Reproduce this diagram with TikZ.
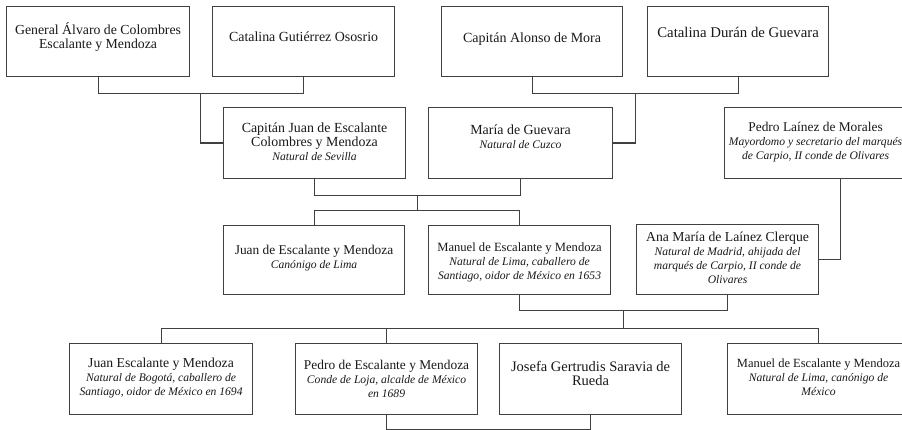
\documentclass[tikz,border=0pt]{standalone}
\usepackage{fontspec}
\setmainfont{Liberation Serif}
\usetikzlibrary{calc}
\tikzset{
  box/.style={draw=black!75, line width=1.1pt, inner sep=0pt, fill=white},
  txt/.style={inner sep=0pt, align=center, text=black!90},
  conn/.style={draw=black!75, line width=1.1pt},
}
\newcommand\sub[1]{{\fontsize{11.6}{14}\selectfont\itshape #1}}
\newcommand\fambox[8]{%
  \node[box, minimum width=#4pt, minimum height=#5pt, anchor=north west] (#1) at (#2,-#3) {};
  \node[txt, font=\fontsize{#7}{14}\selectfont, anchor=north] (#1t) at ([yshift=-#6pt]#1.north) {\rule{0pt}{13pt}#8};}
\begin{document}
\begin{tikzpicture}[x=1pt,y=1pt]
\useasboundingbox (0,0) rectangle (902,-430);
\clip (0,0) rectangle (902,-430);
% row 1
\fambox{A}{6}{6}{183}{70}{15}{13.8}{General Álvaro de Colombres\\Escalante y Mendoza}
\fambox{B}{212}{6}{182}{70}{22}{13.9}{Catalina Gutiérrez Ososrio}
\fambox{C}{441}{6}{181}{70}{23}{14}{Capitán Alonso de Mora}
\fambox{D}{647}{6}{181}{70}{18}{14.8}{Catalina Durán de Guevara}
% row 2
\fambox{E}{223}{107}{182}{71}{12}{13.9}{Capitán Juan de Escalante\\Colombres y Mendoza\\\sub{Natural de Sevilla}}
\fambox{F}{428}{107}{184}{71}{14}{13.9}{María de Guevara\\\sub{Natural de Cuzco}}
\fambox{G}{724}{107}{182}{71}{11}{13.4}{Pedro Laínez de Morales\\\sub{Mayordomo y secretario del marqués}\\\sub{de Carpio, II conde de Olivares}}
% row 3
\fambox{H}{223}{225}{181}{69}{16}{13.4}{Juan de Escalante y Mendoza\\\sub{Canónigo de Lima}}
\fambox{I}{428}{225}{182}{69}{13}{12.6}{Manuel de Escalante y Mendoza\\\sub{Natural de Lima, caballero de}\\\sub{Santiago, oidor de México en 1653}}
\fambox{J}{636}{224}{182}{70}{4}{13.7}{Ana María de Laínez Clerque\\\sub{Natural de Madrid, ahijada del}\\\sub{marqués de Carpio, II conde de}\\\sub{Olivares}}
% row 4
\fambox{K}{69}{343}{183}{71}{11}{13.7}{Juan Escalante y Mendoza\\\sub{Natural de Bogotá, caballero de}\\\sub{Santiago, oidor de México en 1694}}
\fambox{L}{295}{343}{182}{71}{13}{13.4}{Pedro de Escalante y Mendoza\\\sub{Conde de Loja, alcalde de México}\\\sub{en 1689}}
\fambox{M}{499}{343}{182}{71}{15}{14.5}{Josefa Gertrudis Saravia de\\Rueda}
\fambox{N}{727}{343}{182}{71}{11}{12.5}{Manuel de Escalante y Mendoza\\\sub{Natural de Lima, canónigo de}\\\sub{México}}
% connectors
\draw[conn] (A.south) -- ++(0,-16) -| (B.south);
\coordinate (abm) at ($(A.south)!0.5!(B.south)+(0,-16)$);
\draw[conn] (abm) |- (E.west);
\draw[conn] (C.south) -- ++(0,-16) -| (D.south);
\coordinate (cdm) at ($(C.south)!0.5!(D.south)+(0,-16)$);
\draw[conn] (cdm) |- (F.east);
\draw[conn] (E.south) -- ++(0,-16) -| (F.south);
\coordinate (efm) at ($(E.south)!0.5!(F.south)+(0,-16)$);
\coordinate (efc) at ($(efm)+(0,-15)$);
\draw[conn] (efm) -- (efc);
\draw[conn] (H.north) |- (efc) -| (I.north);
\draw[conn] ([xshift=25pt]G.south) |- (J.east);
\draw[conn] (I.south) -- ++(0,-15) -| (J.south);
\coordinate (ijm) at ($(I.south)!0.5!(J.south)+(0,-15)$);
\coordinate (ijc) at ($(ijm)+(0,-18)$);
\draw[conn] (ijm) -- (ijc);
\draw[conn] (K.north) |- (ijc) -| (N.north);
\draw[conn] (L.north) -- (L.north |- ijc);
\draw[conn] (L.south) -- ++(0,-14) -| (M.south);
\end{tikzpicture}
\end{document}
